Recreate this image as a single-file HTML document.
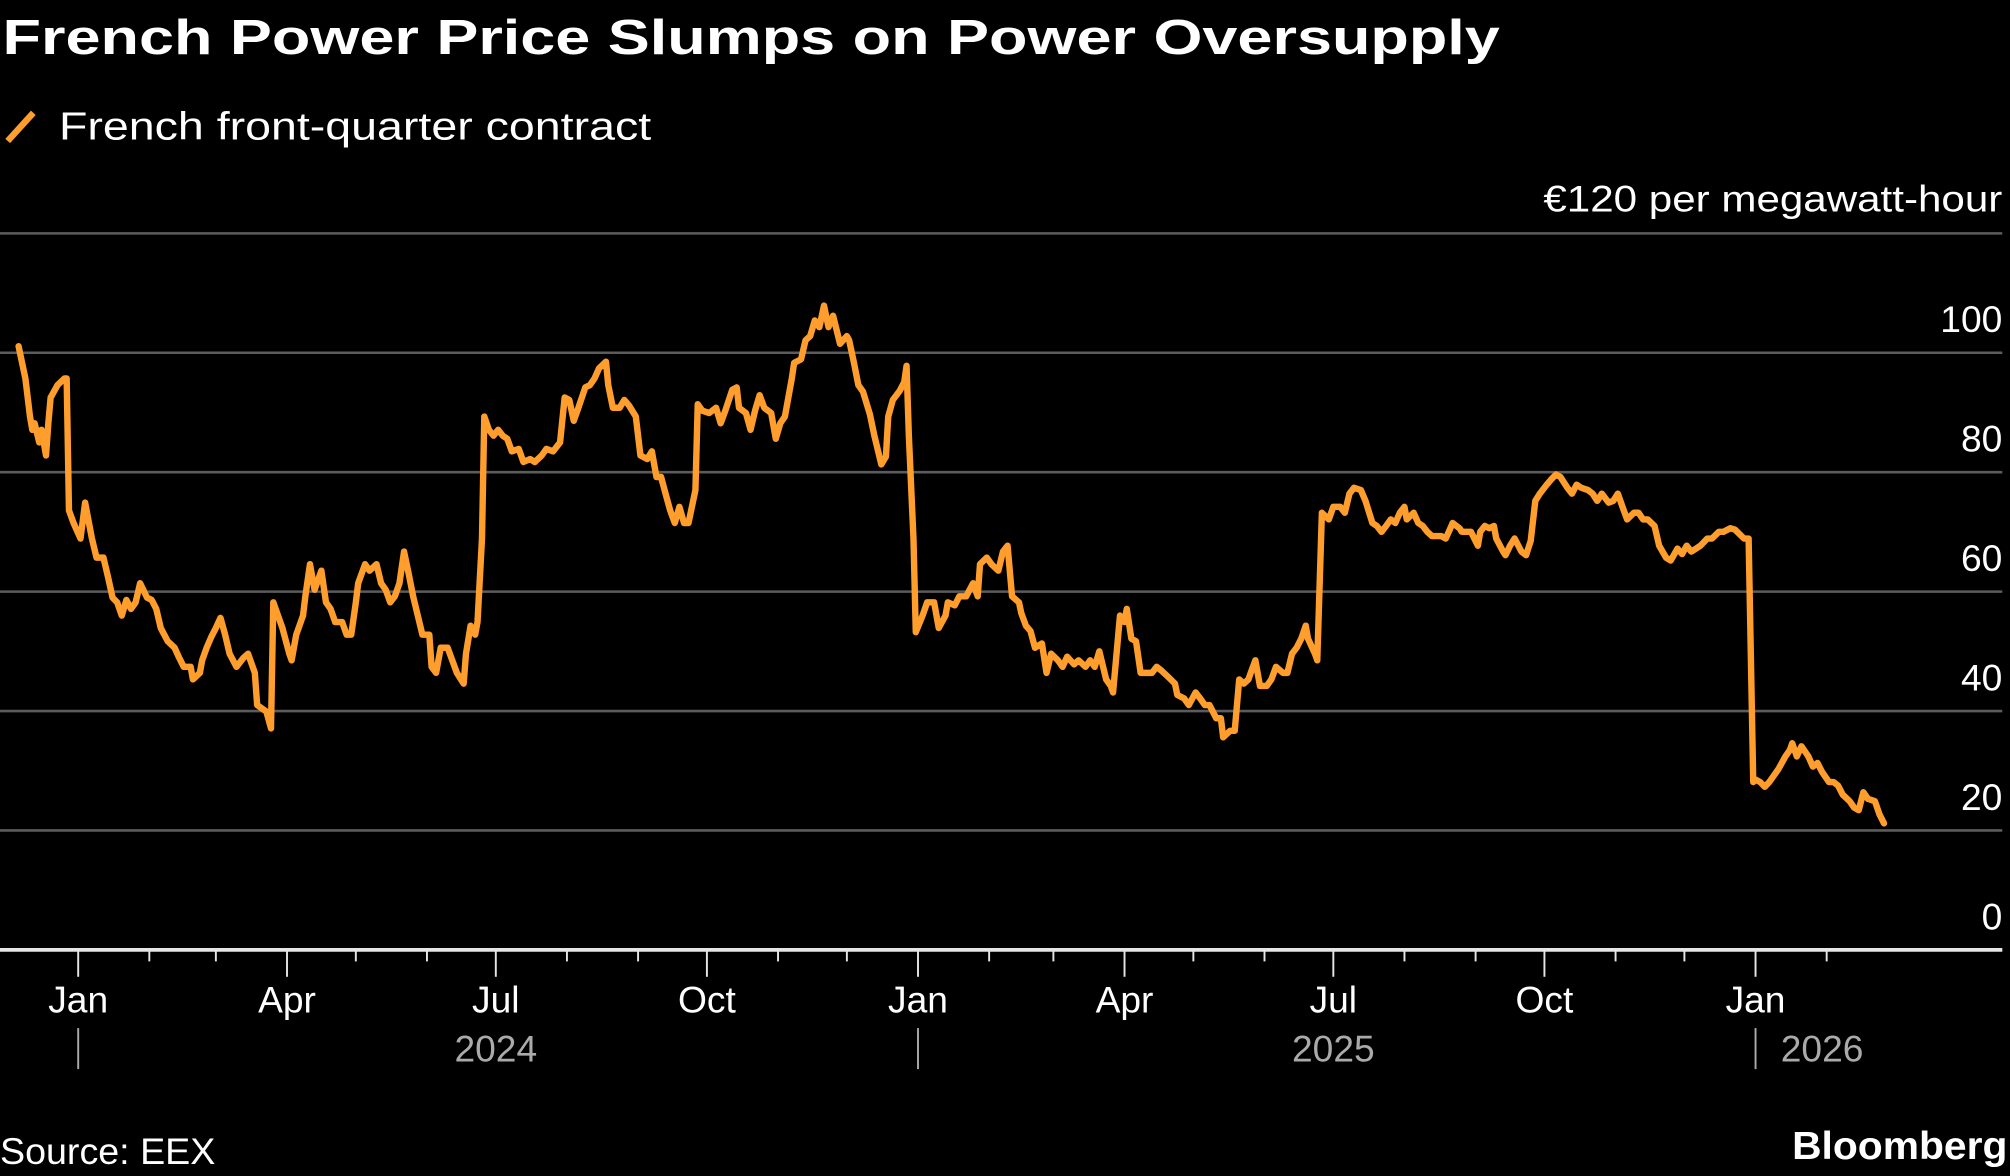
<!DOCTYPE html>
<html><head><meta charset="utf-8"><style>
html,body{margin:0;padding:0;background:#000;}
svg{display:block;}
text{font-family:"Liberation Sans",sans-serif;fill:#fff;}
</style></head><body>
<svg id="chart" width="2010" height="1176" viewBox="0 0 1568 917.4" preserveAspectRatio="none" xmlns="http://www.w3.org/2000/svg">
<rect width="1568" height="917.4" fill="#000"/>
<text x="2" y="42" font-size="38" font-weight="bold" textLength="1168" lengthAdjust="spacingAndGlyphs">French Power Price Slumps on Power Oversupply</text>
<g>
<line x1="6" y1="110" x2="26" y2="88" stroke="#ff9e2c" stroke-width="5"/>
<text x="46" y="109" font-size="30" textLength="462" lengthAdjust="spacingAndGlyphs">French front-quarter contract</text>
</g>
<text x="1562" y="165" font-size="29" text-anchor="end" textLength="358" lengthAdjust="spacingAndGlyphs">€120 per megawatt-hour</text>
<g id="grid"></g>
<g id="xaxis"></g>
<g id="series"></g>
<text x="0" y="908" font-size="29" textLength="168" lengthAdjust="spacingAndGlyphs">Source: EEX</text>
<text x="1566" y="904" font-size="30" font-weight="bold" text-anchor="end" textLength="168" lengthAdjust="spacingAndGlyphs">Bloomberg</text>
</svg>
<script>
const days=[-26,-23,-21,-20,-19,-17,-16,-14,-13,-12,-9,-6,-5,-4,-2,1,3,6,8,11,13,15,17,19,21,23,25,27,30,32,34,36,39,42,44,46,49,50,53,54,56,58,60,62,64,66,69,72,74,77,78,82,84,85,89,92,93,95,98,99,101,103,106,108,110,112,115,117,119,121,122,125,127,130,132,134,136,138,140,142,144,146,148,150,153,154,156,158,161,163,165,168,169,171,173,174,176,177,179,181,183,185,187,189,192,194,197,199,202,204,207,210,212,214,216,218,221,223,225,227,230,231,233,236,238,240,243,245,248,250,252,254,256,258,260,262,264,266,269,270,272,275,278,280,282,285,287,288,291,293,295,297,299,302,304,306,308,311,312,315,317,319,321,323,325,327,329,332,335,336,338,340,342,345,347,350,352,353,355,358,360,361,362,364,365,368,370,373,375,378,379,382,384,387,390,392,393,396,398,401,403,405,407,410,411,413,415,417,420,422,424,427,429,431,434,436,439,441,443,445,448,450,451,454,456,457,459,461,463,465,468,470,472,475,478,479,482,484,487,489,491,493,496,498,499,502,504,506,508,510,511,513,515,518,520,522,525,527,529,531,533,535,536,539,540,542,545,547,550,552,554,556,559,561,564,566,568,570,572,574,576,578,579,582,584,586,588,590,592,594,596,598,599,602,603,606,607,610,611,613,615,617,618,621,622,624,626,629,631,633,635,637,640,642,644,646,649,651,653,655,658,660,662,664,667,669,671,673,675,678,680,682,684,687,689,692,694,697,699,701,703,705,707,710,712,715,717,720,722,726,728,730,731,733,735,737,739,741,744,746,747,749,751,754,756,758,760,763,765,767,769,772,774,776,778,780,783,785,787];
const prices=[101.1,95.7,89.3,87.1,88.2,85.0,87.1,82.8,88.2,92.5,94.6,95.7,95.7,73.6,71.5,68.9,74.9,68.9,65.7,65.7,62.4,59.0,58.2,56.0,58.6,57.1,58.2,61.4,59.0,58.6,57.1,53.9,51.7,50.6,48.9,47.4,47.4,45.3,46.4,48.5,50.6,52.4,53.9,55.6,52.8,49.6,47.4,48.9,49.6,46.4,41.0,39.9,37.1,58.2,53.9,49.6,48.5,52.8,56.0,59.2,64.6,60.3,63.5,58.2,57.1,54.9,54.9,52.8,52.8,58.2,61.4,64.6,63.5,64.6,61.4,60.3,58.2,59.2,61.4,66.7,63.0,59.2,56.0,52.8,52.8,47.4,46.4,50.6,50.6,48.5,46.4,44.6,49.6,54.3,52.8,54.9,68.9,89.3,87.1,86.1,87.1,86.1,85.6,83.5,83.9,81.7,82.2,81.7,82.8,83.9,83.5,85.0,92.5,92.1,88.6,90.8,94.2,94.6,95.7,97.4,98.5,94.6,90.8,90.8,92.1,91.2,89.3,82.8,82.2,83.5,79.2,79.2,76.4,73.6,71.5,74.2,71.5,71.5,77.0,91.4,90.3,89.9,90.8,88.2,90.3,93.8,94.2,90.8,89.9,87.1,90.3,92.9,90.8,89.9,85.6,88.2,89.3,95.7,98.3,98.9,102.1,102.8,105.4,104.3,107.9,104.3,106.2,101.5,102.8,102.1,98.5,94.6,93.5,89.7,86.1,81.3,82.6,89.3,92.1,93.6,95.1,97.8,86.1,68.9,53.2,56.0,58.2,58.2,53.9,56.0,58.2,57.7,59.2,59.2,61.4,59.2,64.6,65.7,64.6,63.5,66.7,67.7,59.2,58.2,56.4,54.3,53.4,50.6,51.3,46.4,49.6,48.5,47.4,49.1,47.8,48.5,47.4,48.5,47.4,50.0,45.3,44.2,43.1,56.0,54.9,57.1,52.1,51.7,46.4,46.4,46.4,47.4,46.8,45.7,44.6,42.7,42.1,41.0,43.1,42.1,41.0,41.0,38.8,38.8,35.6,36.7,36.7,45.3,44.6,45.3,46.4,48.5,44.2,44.2,45.3,47.4,46.4,46.4,49.6,50.6,52.1,54.3,52.1,49.6,48.5,73.2,72.1,74.2,74.2,73.2,76.4,77.4,77.0,75.2,71.5,71.0,70.0,71.0,72.1,71.5,73.2,74.2,72.1,73.2,71.5,71.0,70.0,69.3,69.3,69.3,68.9,70.6,71.5,70.6,70.0,70.0,70.0,67.7,70.0,71.0,70.6,71.0,68.9,66.7,66.1,67.7,68.9,66.7,66.1,68.5,75.2,76.4,77.9,78.8,79.6,79.2,77.4,76.4,77.9,77.4,77.0,76.4,75.2,76.4,74.9,75.2,76.4,74.2,72.1,73.2,73.2,72.1,72.1,71.0,67.7,65.7,65.2,67.2,66.3,67.7,66.7,67.2,67.7,68.9,68.9,70.0,70.0,70.6,70.4,68.9,68.9,28.1,28.5,28.1,27.3,28.1,29.2,30.3,32.4,33.5,34.6,32.4,34.1,32.4,30.7,31.3,29.8,28.1,28.1,27.5,26.0,24.9,23.8,23.4,26.4,25.3,24.9,22.7,21.2];
const yTicks=[0,20,40,60,80,100,120];
const yLabels=["0","20","40","60","80","100",""];
const monthDays=[0,31,60,91,121,152,182,213,244,274,305,335,366,397,425,456,486,517,547,578,609,639,670,700,731,762];
const monthLabels=["Jan","","","Apr","","","Jul","","","Oct","","","Jan","","","Apr","","","Jul","","","Oct","","","Jan",""];
const yearLabels=["2024","2025","2026"];
const yearLabelDays=[182,547,760];
const yearSepDays=[0,366,731];

const NS="http://www.w3.org/2000/svg";
const X=d=>61+d*1.79;
const Y=v=>741-v*4.658;
function mk(tag,attrs,parent){const e=document.createElementNS(NS,tag);for(const k in attrs)e.setAttribute(k,attrs[k]);parent.appendChild(e);return e;}
const grid=document.getElementById('grid'),xa=document.getElementById('xaxis'),ser=document.getElementById('series');
yTicks.forEach((v,i)=>{
  if(v>0){const l=mk('line',{x1:0,x2:1562,y1:Y(v),y2:Y(v),stroke:'#5c5c5c','stroke-width':2},grid);
  
  }
  if(yLabels[i]){const t=mk('text',{x:1562,y:Y(v)-16,'font-size':29,'text-anchor':'end'},grid);t.textContent=yLabels[i];
  
  }
});
const ax=mk('line',{x1:0,x2:1562,y1:741,y2:741,stroke:'#e6e6e6','stroke-width':3},xa);


monthDays.forEach((d,i)=>{
  const major=monthLabels[i]!=="";
  const tk=mk('line',{x1:X(d),x2:X(d),y1:741,y2:major?762:750,stroke:'#e6e6e6','stroke-width':1.5},xa);
  
  
  if(major){const t=mk('text',{x:X(d),y:790,'font-size':29,'text-anchor':'middle'},xa);t.textContent=monthLabels[i];
  
  }
});
yearSepDays.forEach(d=>{const l=mk('line',{x1:X(d),x2:X(d),y1:802,y2:834,stroke:'#aaa','stroke-width':1.5},xa);
  
  });
yearLabels.forEach((y,i)=>{const t=mk('text',{x:X(yearLabelDays[i]),y:828,'font-size':29,'text-anchor':'middle',style:'fill:#aaa'},xa);t.textContent=y;
  
  });
const pts=days.map((d,i)=>X(d).toFixed(1)+','+Y(prices[i]).toFixed(1)).join(' ');
const pl=mk('polyline',{points:pts,fill:'none',stroke:'#ff9e2c','stroke-width':5,'stroke-linejoin':'round','stroke-linecap':'round'},ser);


</script>
</body></html>
